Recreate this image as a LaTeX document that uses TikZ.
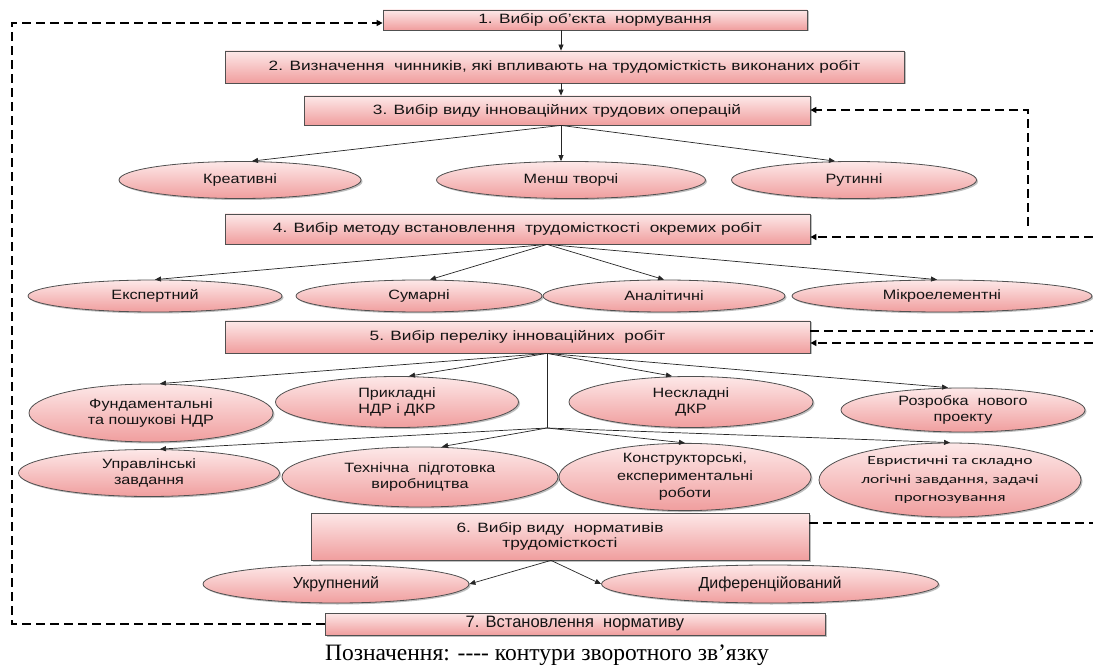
\documentclass[tikz,border=0pt]{standalone}
\usepackage{fontspec}
\setmainfont{Liberation Sans}
\newfontfamily\bxfont[FakeStretch=1.28]{Liberation Sans}
\newfontfamily\elfont[FakeStretch=1.2]{Liberation Sans}
\newfontfamily\heurfont[FakeStretch=1.4]{Carlito}
\newfontfamily\capfont{Liberation Serif}
\usetikzlibrary{shapes.geometric,arrows.meta,shadows,calc}
\definecolor{pkTop}{RGB}{253,232,232}
\definecolor{pkBot}{RGB}{240,158,158}
\definecolor{edgegray}{RGB}{80,80,80}
\definecolor{txtgray}{RGB}{20,20,20}
\begin{document}
\begin{tikzpicture}[x=1pt,y=-1pt,
  pk/.style={draw=edgegray, line width=0.8pt, top color=pkTop, bottom color=pkBot,
    text=txtgray, inner sep=0pt, align=center,
    general shadow={fill=black, opacity=0.25, shadow xshift=1.5pt, shadow yshift=-1.5pt}},
  bx/.style={pk, rectangle, font=\bxfont\fontsize{13.5}{15}\selectfont},
  el/.style={pk, ellipse, font=\elfont\fontsize{13.5}{15.5}\selectfont},
  big/.style={font=\fontsize{16}{18}\selectfont},
  ar/.style={draw=black!85, line width=0.7pt, -{Triangle[length=6pt,width=5pt]}},
  fb/.style={draw=black, line width=1.6pt, dash pattern=on 9pt off 5pt},
  fba/.style={fb, -{Triangle[length=6pt,width=6pt]}}
]
\fill[white] (0,0) rectangle (1093,668);
\useasboundingbox (0,0) rectangle (1093,668);

% helper coordinates
\coordinate (tx) at (561,0);
\coordinate (vx) at (547,0);
\coordinate (j) at (547,428);
\coordinate (sx) at (551,0);
\coordinate (lt) at (12,23);
\coordinate (lb) at (12,624);
\coordinate (rv1) at (1028,110);
\coordinate (rv2) at (1028,226);
\coordinate (r4) at (1093,237);
\coordinate (r5a) at (1093,331);
\coordinate (r5b) at (1093,343);
\coordinate (r6) at (1093,523);

% boxes
\node[bx, minimum width=424pt, minimum height=20pt] (b1) at (595,20) {1. Вибір об’єкта\ \ нормування};
\node[bx, minimum width=679pt, minimum height=32pt] (b2) at (564.5,67) {2. Визначення\ \ чинників, які впливають на трудомісткість виконаних робіт};
\node[bx, minimum width=506pt, minimum height=29pt] (b3) at (557,110.5) {3. Вибір виду інноваційних трудових операцій};
\node[bx, minimum width=585pt, minimum height=30pt] (b4) at (517.5,229) {4. Вибір методу встановлення\ \ трудомісткості\ \ окремих робіт};
\node[bx, minimum width=585pt, minimum height=32pt] (b5) at (517.5,337) {5. Вибір переліку інноваційних\ \ робіт};
\node[bx, minimum width=498pt, minimum height=47pt] (b6) at (560,536.5) {6. Вибір виду\ \ нормативів\\трудомісткості};
\node[bx, font=\fontsize{16.5}{18}\selectfont, minimum width=500pt, minimum height=22pt] (b7) at (575,624) {7. Встановлення\ \ нормативу};

% row 1
\node[el, minimum width=242pt, minimum height=37pt] (kr) at (240,180) {Креативні};
\node[el, minimum width=269pt, minimum height=37pt] (mt) at (571,180) {Менш творчі};
\node[el, minimum width=245pt, minimum height=37pt] (ru) at (854,180) {Рутинні};
% row 2
\node[el, minimum width=254pt, minimum height=32pt] (ek) at (155,296) {Експертний};
\node[el, minimum width=246pt, minimum height=32pt] (su) at (419,296) {Сумарні};
\node[el, minimum width=242pt, minimum height=32pt] (an) at (664,296) {Аналітичні};
\node[el, minimum width=300pt, minimum height=32pt] (mi) at (942,296) {Мікроелементні};
% row 3
\node[el, minimum width=244pt, minimum height=58pt] (fu) at (151,413) {Фундаментальні\\та пошукові НДР};
\node[el, minimum width=243pt, minimum height=51pt] (pr) at (397,402) {Прикладні\\НДР і ДКР};
\node[el, minimum width=244pt, minimum height=51pt] (ne) at (691,402) {Нескладні\\ДКР};
\node[el, minimum width=244pt, minimum height=44pt] (ro) at (963,410) {Розробка\ \ нового\\проекту};
% row 4
\node[el, minimum width=261pt, minimum height=47pt] (up) at (149,473) {Управлінські\\завдання};
\node[el, minimum width=276pt, minimum height=60pt] (te) at (420,477) {Технічна\ \ підготовка\\виробництва};
\node[el, minimum width=252pt, minimum height=64pt, font=\elfont\fontsize{13.5}{17.5}\selectfont] (ko) at (685,477) {Конструкторські,\\експериментальні\\роботи};
\node[el, minimum width=262pt, minimum height=74pt, font=\heurfont\fontsize{12.5}{18.5}\selectfont] (ev) at (950,480) {Евристичні та складно\\логічні завдання, задачі\\прогнозування};
% row 6
\node[el, big, minimum width=266pt, minimum height=38pt] (uk) at (336,584) {Укрупнений};
\node[el, big, minimum width=337pt, minimum height=38pt] (dy) at (770,584) {Диференційований};

% caption
\node[font=\capfont\fontsize{23.5}{25}\selectfont, text=black, inner sep=0pt] (cap) at (547,655) {Позначення: -{}-{}-{}- контури зворотного зв’язку};

% solid connectors
\draw[ar] (b1.south -| tx) -- (b2.north -| tx);
\draw[ar] (b2.south -| tx) -- (b3.north -| tx);
\draw[ar] (b3.south -| tx) -- ($(kr.north)+(12,0)$);
\draw[ar] (b3.south -| tx) -- (mt.north -| tx);
\draw[ar] (b3.south -| tx) -- ($(ru.north)+(-19,0)$);

\draw[ar] (b4.south -| vx) -- (ek.north);
\draw[ar] (b4.south -| vx) -- ($(su.north)+(11,0)$);
\draw[ar] (b4.south -| vx) -- (an.north);
\draw[ar] (b4.south -| vx) -- ($(mi.north)+(-5,0)$);

\draw[ar] (b5.south -| vx) -- ($(fu.north)+(9,0)$);
\draw[ar] (b5.south -| vx) -- ($(pr.north)+(12,0)$);
\draw[ar] (b5.south -| vx) -- ($(ne.north)+(-19,0)$);
\draw[ar] (b5.south -| vx) -- ($(ro.north)+(-15,0)$);
\draw[draw=black!85, line width=0.7pt] (b5.south -| vx) -- (j);
\draw[ar] (j) -- ($(up.north)+(11,0)$);
\draw[ar] (j) -- ($(te.north)+(22,0)$);
\draw[ar] (j) -- (ko.north);
\draw[ar] (j) -- (ev.north);

\draw[ar] (b6.south -| sx) -- (uk.east);
\draw[ar] (b6.south -| sx) -- (dy.west);

% feedback loops
\draw[fba] (b7.west) -- (lb) -- (lt) -- (lt -| b1.west);
\draw[fba] (rv2) -- (rv1) -- (rv1 -| b3.east);
\draw[fba] (r4) -- (r4 -| b4.east);
\draw[fb] (r5a -| b5.east) -- (r5a);
\draw[fba] (r5b) -- (r5b -| b5.east);
\draw[fb] (r6 -| b6.east) -- (r6);
\end{tikzpicture}
\end{document}
